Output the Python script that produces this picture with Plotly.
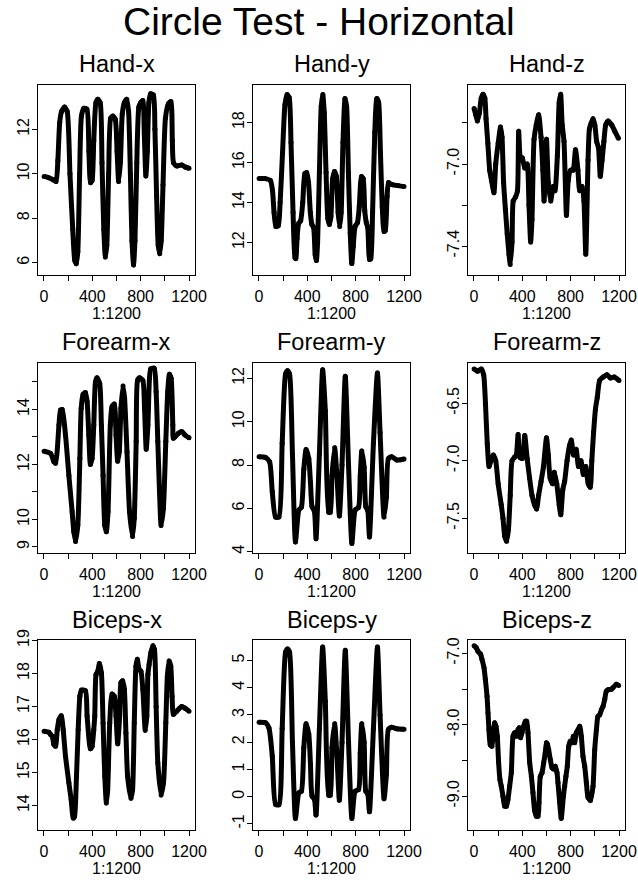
import plotly.graph_objects as go

# ---------------- data ----------------
panel_titles = ["Hand-x", "Hand-y", "Hand-z",
                "Forearm-x", "Forearm-y", "Forearm-z",
                "Biceps-x", "Biceps-y", "Biceps-z"]
main_title = "Circle Test - Horizontal"
x_label = "1:1200"
x_tick_vals = [0, 200, 400, 600, 800, 1000, 1200]
x_tick_text = ["0", "", "400", "", "800", "", "1200"]

hand_x_idx = [1, 40, 80, 100, 115, 130, 145, 170, 192, 215, 238, 255, 268, 280, 295, 310, 330, 355, 372, 385,
              398, 412, 430, 445, 465, 480, 495, 508, 520, 535, 552, 570, 590, 605, 618, 632, 648, 665, 685, 700,
              715, 728, 741, 753, 768, 785, 800, 818, 830, 843, 855, 868, 882, 905, 918, 932, 945, 958, 970, 985,
              1005, 1030, 1050, 1062, 1072, 1100, 1140, 1170, 1200]
hand_x_val = [9.88, 9.82, 9.72, 9.65, 10.6, 12.3, 12.8, 13.0, 12.8, 10.0, 7.5, 6.1, 5.95, 6.5, 10.0, 12.6, 12.95, 12.9, 11.0, 9.6,
              9.7, 11.5, 13.2, 13.35, 13.2, 10.5, 7.5, 6.25, 6.8, 10.0, 12.5, 12.6, 12.45, 11.0, 9.65, 10.5, 12.7, 13.2, 13.35, 12.8,
              10.0, 7.0, 5.9, 7.0, 10.5, 13.0, 13.2, 13.3, 11.8, 9.9, 11.0, 13.2, 13.6, 13.55, 12.0, 9.0, 6.8, 6.4, 7.0, 9.5,
              12.5, 13.15, 13.25, 11.5, 10.5, 10.35, 10.4, 10.3, 10.25]

hand_y_idx = [1, 50, 95, 112, 125, 140, 160, 175, 195, 215, 232, 250, 265, 282, 298, 305, 315, 328, 345, 362,
              380, 395, 410, 425, 438, 452, 465, 475, 485, 500, 515, 528, 540, 555, 570, 583, 595, 610, 625, 640,
              655, 668, 680, 695, 712, 725, 740, 755, 768, 780, 795, 815, 830, 848, 862, 875, 888, 900, 915, 925,
              940, 958, 975, 990, 1005, 1020, 1035, 1045, 1060, 1072, 1100, 1150, 1200]
hand_y_val = [15.2, 15.2, 15.1, 14.6, 13.5, 12.8, 12.85, 14.0, 16.5, 18.9, 19.4, 19.25, 17.0, 13.5, 11.25, 11.2, 12.2, 12.95, 13.1, 14.0,
              15.45, 15.5, 15.0, 13.5, 12.9, 12.75, 11.4, 11.1, 12.0, 15.5, 18.8, 19.4, 18.5, 15.5, 13.2, 12.9, 13.3, 15.2, 15.55, 15.3,
              13.5, 12.8, 13.5, 17.0, 19.2, 18.8, 15.5, 12.5, 10.95, 11.8, 12.8, 13.0, 13.8, 15.3, 15.2, 13.6, 13.0, 12.75, 11.15, 11.2,
              13.5, 17.5, 19.2, 19.0, 16.5, 13.8, 12.55, 12.6, 14.3, 15.0, 14.9, 14.85, 14.8]

hand_z_idx = [1, 15, 28, 45, 60, 75, 90, 100, 115, 130, 145, 165, 180, 200, 220, 232, 245, 260, 275, 290,
              300, 315, 325, 345, 360, 370, 385, 400, 420, 440, 455, 469, 480, 497, 515, 535, 555, 570, 580, 600,
              615, 635, 655, 670, 690, 705, 717, 730, 745, 765, 780, 800, 820, 840, 860, 875, 895, 910, 925, 944,
              955, 970, 985, 1000, 1015, 1030, 1045, 1060, 1075, 1090, 1110, 1140, 1165, 1195]
hand_z_val = [-6.73, -6.76, -6.79, -6.75, -6.68, -6.66, -6.68, -6.78, -6.9, -7.03, -7.08, -7.14, -7.0, -6.9, -6.82, -6.87, -7.09, -7.22, -7.34, -7.44,
              -7.49, -7.38, -7.18, -7.16, -7.13, -6.84, -6.98, -6.97, -7.02, -7.0, -7.2, -7.38, -7.27, -6.88, -6.81, -6.76, -6.87, -7.03, -7.18, -6.88,
              -7.09, -7.18, -7.11, -7.13, -6.96, -6.7, -6.66, -6.81, -6.89, -7.25, -7.08, -7.03, -7.03, -6.93, -7.03, -7.13, -7.11, -7.18, -7.44, -6.98,
              -6.83, -6.8, -6.78, -6.81, -6.89, -6.92, -7.06, -6.98, -6.89, -6.81, -6.79, -6.81, -6.84, -6.875]

forearm_x_idx = [1, 55, 82, 96, 124, 137, 151, 178, 206, 233, 247, 261, 280, 297, 308, 324, 343, 357, 371, 384,
                 398, 412, 426, 439, 461, 475, 489, 503, 516, 530, 549, 563, 582, 596, 610, 623, 637, 654, 667, 687,
                 708, 733, 747, 763, 774, 791, 818, 832, 846, 860, 873, 884, 912, 928, 942, 956, 969, 988, 1008, 1024,
                 1038, 1052, 1066, 1071, 1112, 1140, 1167, 1200]
forearm_x_val = [12.48, 12.4, 12.1, 12.04, 13.43, 13.98, 14.0, 13.07, 11.6, 10.28, 9.55, 9.2, 9.8, 12.22, 14.04, 14.55, 14.62, 14.28, 13.07, 12.0,
                 12.22, 13.43, 15.0, 15.15, 14.94, 13.43, 11.6, 9.79, 9.55, 10.28, 13.43, 14.1, 14.2, 13.07, 12.12, 12.46, 14.04, 14.85, 14.4, 12.46,
                 10.28, 9.38, 10.04, 12.83, 15.05, 15.15, 15.05, 14.04, 12.55, 13.43, 15.13, 15.48, 15.5, 14.64, 12.83, 11.01, 9.78, 10.4, 12.83, 14.64,
                 15.28, 15.13, 13.43, 12.95, 13.13, 13.2, 13.07, 12.97]

forearm_y_idx = [1, 55, 88, 110, 137, 165, 192, 220, 236, 253, 277, 302, 330, 351, 371, 390, 412, 426, 439, 459,
                 472, 500, 527, 549, 577, 590, 604, 626, 645, 665, 687, 714, 741, 769, 796, 824, 838, 851, 870, 884,
                 900, 914, 947, 980, 1002, 1035, 1054, 1071, 1098, 1140, 1200]
forearm_y_val = [8.38, 8.35, 8.15, 6.77, 5.6, 5.6, 9.0, 12.2, 12.35, 12.2, 8.5, 4.45, 5.92, 6.05, 7.8, 8.72, 8.3, 7.2, 6.08, 5.85,
                 4.6, 8.5, 12.4, 10.5, 5.82, 5.82, 7.5, 8.8, 7.5, 5.65, 8.0, 12.1, 8.0, 4.38, 5.92, 6.05, 7.5, 8.65, 7.9, 6.08,
                 5.9, 4.68, 9.0, 12.25, 9.5, 5.6, 6.5, 8.3, 8.38, 8.23, 8.28]

forearm_z_idx = [1, 30, 60, 80, 95, 110, 125, 140, 160, 180, 200, 225, 240, 255, 270, 285, 300, 315, 335, 350,
                 365, 380, 400, 420, 440, 460, 480, 500, 518, 535, 555, 575, 600, 615, 630, 650, 665, 685, 705, 718,
                 735, 750, 770, 790, 805, 825, 845, 865, 885, 905, 925, 945, 962, 975, 990, 1005, 1020, 1040, 1070, 1100,
                 1130, 1160, 1200]
forearm_z_val = [-6.2, -6.22, -6.2, -6.25, -6.5, -6.85, -7.05, -7.0, -6.95, -7.0, -7.2, -7.38, -7.5, -7.66, -7.7, -7.6, -7.3, -7.0, -6.97, -6.95,
                 -6.77, -6.97, -6.98, -6.78, -6.98, -7.15, -7.3, -7.38, -7.42, -7.3, -7.18, -7.05, -6.8, -6.95, -7.15, -7.2, -7.1, -7.2, -7.38, -7.47,
                 -7.25, -7.18, -7.0, -6.87, -6.82, -6.95, -6.9, -7.05, -7.0, -7.12, -7.05, -7.2, -7.23, -7.0, -6.75, -6.55, -6.45, -6.3, -6.27, -6.25,
                 -6.28, -6.27, -6.3]

biceps_x_idx = [1, 41, 55, 69, 82, 96, 110, 124, 143, 159, 178, 206, 225, 242, 253, 269, 283, 297, 310, 343,
                357, 384, 398, 412, 420, 431, 445, 459, 475, 489, 503, 516, 527, 544, 563, 582, 596, 610, 626, 637,
                651, 665, 678, 692, 720, 733, 747, 761, 772, 788, 802, 818, 838, 851, 860, 870, 884, 901, 914, 928,
                942, 969, 989, 1008, 1021, 1035, 1049, 1060, 1071, 1098, 1140, 1167, 1200]
biceps_x_val = [16.25, 16.22, 16.15, 16.1, 15.85, 15.8, 16.3, 16.6, 16.72, 16.3, 15.5, 14.69, 14.18, 13.62, 13.68, 14.89, 16.3, 17.31, 17.5, 17.48,
                16.71, 15.72, 15.8, 16.3, 16.7, 17.97, 18.07, 18.3, 18.02, 16.5, 14.89, 14.08, 14.48, 16.5, 17.38, 17.31, 16.71, 15.87, 16.71, 17.72,
                17.78, 17.52, 16.2, 14.89, 14.22, 14.48, 16.5, 18.22, 18.43, 18.12, 18.07, 17.52, 16.28, 16.71, 17.97, 18.27, 18.62, 18.84, 18.73, 17.0,
                15.29, 14.32, 14.69, 16.5, 17.92, 18.38, 18.22, 17.31, 16.76, 16.86, 17.0, 16.95, 16.86]

biceps_y_idx = [1, 55, 82, 110, 137, 165, 192, 220, 236, 253, 277, 302, 330, 351, 371, 390, 412, 426, 439, 459,
                472, 500, 527, 549, 577, 590, 604, 626, 645, 665, 687, 714, 741, 769, 796, 824, 838, 851, 870, 884,
                900, 914, 947, 980, 1002, 1035, 1054, 1071, 1098, 1140, 1200]
biceps_y_val = [2.73, 2.71, 2.53, 1.49, -0.28, -0.3, 2.5, 5.3, 5.42, 5.3, 2.0, -0.8, 0.14, 0.2, 1.8, 2.68, 2.3, 1.2, 0.02, -0.1,
                -0.68, 2.5, 5.5, 3.5, 0.05, 0.05, 1.8, 2.68, 1.5, -0.13, 2.0, 5.38, 2.0, -0.8, 0.2, 0.26, 1.6, 2.68, 2.0, 0.2,
                0.1, -0.56, 2.5, 5.5, 3.0, -0.08, 0.8, 2.47, 2.55, 2.49, 2.47]

biceps_z_idx = [1, 19, 33, 55, 66, 83, 94, 108, 116, 124, 135, 149, 163, 171, 182, 193, 204, 215, 226, 240,
                254, 268, 281, 295, 309, 323, 337, 350, 364, 375, 386, 397, 411, 425, 436, 447, 461, 475, 488, 502,
                516, 530, 538, 549, 563, 577, 590, 599, 607, 618, 632, 646, 659, 673, 687, 695, 709, 722, 740, 750,
                761, 772, 784, 797, 811, 822, 833, 847, 861, 875, 888, 902, 916, 930, 944, 964, 985, 999, 1013, 1026,
                1040, 1054, 1068, 1082, 1095, 1109, 1137, 1150, 1178, 1197]
biceps_z_val = [-6.89, -6.92, -6.97, -7.01, -7.08, -7.2, -7.36, -7.6, -7.83, -8.07, -8.28, -8.3, -8.05, -7.97, -8.02, -8.16, -8.53, -8.77, -8.86, -9.0,
                -9.14, -9.14, -9.05, -8.86, -8.67, -8.16, -8.11, -8.16, -8.07, -8.04, -8.18, -8.11, -8.02, -7.95, -7.95, -8.11, -8.53, -8.72, -8.95, -9.2,
                -9.28, -9.28, -9.09, -8.72, -8.67, -8.53, -8.39, -8.25, -8.27, -8.35, -8.49, -8.6, -8.62, -8.58, -8.67, -8.81, -9.09, -9.31, -9.0, -8.86,
                -8.72, -8.58, -8.3, -8.23, -8.25, -8.16, -8.25, -8.11, -8.07, -8.02, -8.16, -8.44, -8.58, -8.81, -9.02, -9.06, -8.86, -8.35, -8.07, -7.88,
                -7.86, -7.79, -7.74, -7.64, -7.53, -7.51, -7.5, -7.48, -7.43, -7.45]

# y tick values / labels of each panel
y_ticks = [
    ([6, 8, 10, 12], ["6", "8", "10", "12"]),
    ([12, 14, 16, 18], ["12", "14", "16", "18"]),
    ([-7.4, -7.2, -7.0, -6.8], ["-7.4", "", "-7.0", ""]),
    ([9, 10, 11, 12, 13, 14, 15], ["9", "10", "", "12", "", "14", ""]),
    ([4, 6, 8, 10, 12], ["4", "6", "8", "10", "12"]),
    ([-7.5, -7.0, -6.5], ["-7.5", "-7.0", "-6.5"]),
    ([14, 15, 16, 17, 18, 19], ["14", "15", "16", "17", "18", "19"]),
    ([-1, 0, 1, 2, 3, 4, 5], ["-1", "0", "1", "2", "3", "4", "5"]),
    ([-9.0, -8.5, -8.0, -7.5, -7.0], ["-9.0", "", "-8.0", "", "-7.0"]),
]

series = [(hand_x_idx, hand_x_val), (hand_y_idx, hand_y_val), (hand_z_idx, hand_z_val),
          (forearm_x_idx, forearm_x_val), (forearm_y_idx, forearm_y_val), (forearm_z_idx, forearm_z_val),
          (biceps_x_idx, biceps_x_val), (biceps_y_idx, biceps_y_val), (biceps_z_idx, biceps_z_val)]

# ---------------- layout / style ----------------
W, H = 638, 880
FONT = "Liberation Sans, Arial, Helvetica, sans-serif"
col_left = [38.3, 253.3, 468.3]
box_w = 156.5
row_top = [85.0, 362.7, 640.0]
box_h = 190.0
x_range = [-46.96, 1247.96]
y_ranges = [[5.445, 13.995], [10.38, 19.88], [-7.541, -6.615],
            [8.79, 15.70], [3.954, 12.72], [-7.80, -6.146],
            [13.26, 19.015], [-1.227, 5.753], [-9.474, -6.811]]

fig = go.Figure()
annotations = []
layout = dict(width=W, height=H, margin=dict(l=0, r=0, t=0, b=0, pad=0, autoexpand=False),
              paper_bgcolor="white", plot_bgcolor="white", showlegend=False,
              font=dict(family=FONT, color="black"))

for k in range(9):
    r, c = divmod(k, 3)
    n = k + 1
    xa = "x" if n == 1 else f"x{n}"
    ya = "y" if n == 1 else f"y{n}"
    idx, val = series[k]
    fig.add_trace(go.Scatter(
        x=idx, y=val, mode="lines+markers", xaxis=xa, yaxis=ya,
        line=dict(color="black", width=5, shape="spline", smoothing=0.6),
        marker=dict(color="black", size=5), hoverinfo="skip"))
    L = col_left[c]
    T = row_top[r]
    B = T + box_h
    common = dict(showline=True, mirror=True, linecolor="black", linewidth=1,
                  ticks="outside", ticklen=5, tickwidth=1, tickcolor="black",
                  showgrid=False, zeroline=False, fixedrange=True, automargin=False,
                  tickfont=dict(family=FONT, size=16, color="black"), tickmode="array")
    layout[f"xaxis{'' if n == 1 else n}"] = dict(
        common, domain=[L / W, (L + box_w) / W], range=x_range, anchor=ya,
        tickvals=x_tick_vals, ticktext=x_tick_text, ticklabelstandoff=2)
    tv, tt = y_ticks[k]
    layout[f"yaxis{'' if n == 1 else n}"] = dict(
        common, domain=[1 - B / H, 1 - T / H], range=y_ranges[k], anchor=xa,
        tickvals=tv, ticktext=tt, tickangle=-90, ticklabelstandoff=-3)
    cx = (L + box_w / 2) / W
    annotations.append(dict(text=panel_titles[k], x=cx, y=1 - (T - 20.5) / H,
                            xref="paper", yref="paper", xanchor="center", yanchor="middle",
                            showarrow=False, font=dict(family=FONT, size=23.5, color="black")))
    annotations.append(dict(text=x_label, x=cx, y=1 - (B + 38.5) / H,
                            xref="paper", yref="paper", xanchor="center", yanchor="middle",
                            showarrow=False, font=dict(family=FONT, size=16, color="black")))

annotations.append(dict(text=main_title, x=0.5, y=1 - 21 / H, xref="paper", yref="paper",
                        xanchor="center", yanchor="middle", showarrow=False,
                        font=dict(family=FONT, size=39, color="black")))
layout["annotations"] = annotations
fig.update_layout(**layout)
fig.write_html("out.html", config={"displayModeBar": False, "staticPlot": True},
               post_script="document.body.style.margin='0px';document.body.style.overflow='hidden';")
